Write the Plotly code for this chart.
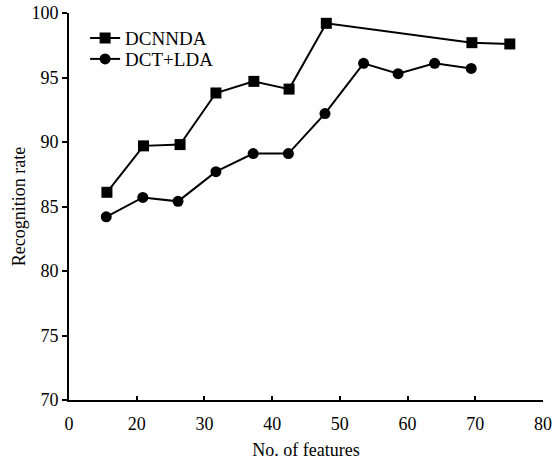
import plotly.graph_objects as go

# Data (x positions read in axis units; axis label "0" sits at 10)
dcnnda_x = [15.6, 21.0, 26.4, 31.7, 37.3, 42.5, 48.0, 69.5, 75.1]
dcnnda_y = [86.1, 89.7, 89.8, 93.8, 94.7, 94.1, 99.2, 97.7, 97.6]
dct_x = [15.5, 20.9, 26.1, 31.7, 37.2, 42.4, 47.8, 53.5, 58.6, 64.0, 69.4]
dct_y = [84.2, 85.7, 85.4, 87.7, 89.1, 89.1, 92.2, 96.1, 95.3, 96.1, 95.7]

x_tickvals = [10, 20, 30, 40, 50, 60, 70, 80]
x_ticktext = ["0", "20", "30", "40", "50", "60", "70", "80"]
y_tickvals = [70, 75, 80, 85, 90, 95, 100]

FONT = "Liberation Serif"

fig = go.Figure()
fig.add_trace(go.Scatter(x=dcnnda_x, y=dcnnda_y, mode="lines+markers", name="DCNNDA",
                         line=dict(color="black", width=2), legend="legend",
                         marker=dict(symbol="square", size=11, color="black")))
fig.add_trace(go.Scatter(x=dct_x, y=dct_y, mode="lines+markers", name="DCT+LDA",
                         line=dict(color="black", width=2), legend="legend2",
                         marker=dict(symbol="circle", size=11, color="black")))

leg_common = dict(xanchor="left", yanchor="middle", bgcolor="rgba(0,0,0,0)",
                  font=dict(family=FONT, size=19), itemwidth=30)

fig.update_layout(
    width=554, height=460,
    margin=dict(l=69, r=11, t=13, b=60, autoexpand=False),
    paper_bgcolor="white", plot_bgcolor="white",
    font=dict(family=FONT, color="black", size=17),
    showlegend=True,
    legend=dict(x=0.034, y=0.935, **leg_common),
    legend2=dict(x=0.034, y=0.881, **leg_common),
    xaxis=dict(range=[10, 80], tickvals=x_tickvals, ticktext=x_ticktext,
               showgrid=False, zeroline=False, showline=True, linecolor="black",
               linewidth=2, ticks="inside", ticklen=4, tickwidth=2, tickcolor="black",
               ticklabelstandoff=6, automargin=False,
               tickfont=dict(family=FONT, size=18),
               title=dict(text="No. of features",
                          font=dict(family=FONT, size=18), standoff=14)),
    yaxis=dict(range=[70, 100], tickvals=y_tickvals,
               showgrid=False, zeroline=False, showline=True, linecolor="black",
               linewidth=2, ticks="outside", ticklen=5, tickwidth=2, tickcolor="black",
               automargin=False,
               tickfont=dict(family=FONT, size=18),
               title=dict(text="Recognition rate",
                          font=dict(family=FONT, size=18), standoff=1)),
)

fig.write_html("out.html")
